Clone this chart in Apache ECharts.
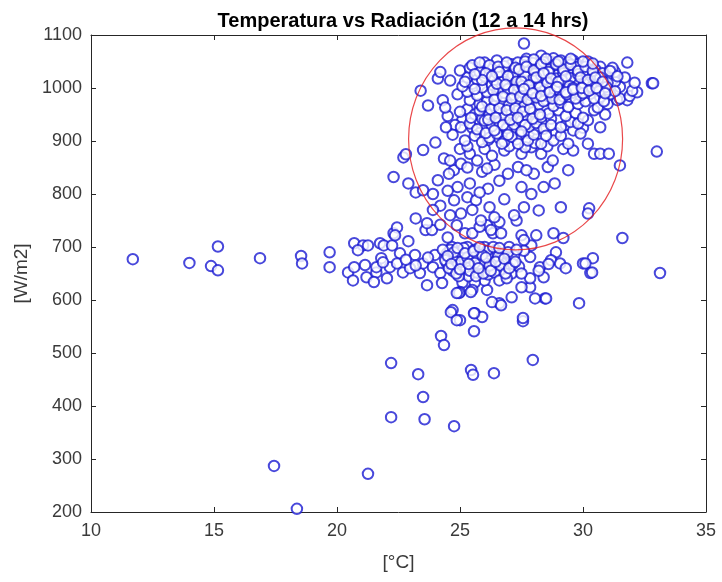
<!DOCTYPE html>
<html>
<head>
<meta charset="utf-8">
<script src="https://cdn.jsdelivr.net/npm/echarts@6/dist/echarts.min.js"></script>
<style>html,body{margin:0;padding:0;background:#fff;}#c{width:722px;height:582px;}</style>
</head>
<body>
<div id="c"></div>
<script>
// ---- Data: [temperature °C, radiation W/m2] ----
const leftTail = [
  [11.7,677],[14.0,670],[14.88,664],[15.16,656],[15.16,701],[16.87,679],
  [18.54,683],[18.58,669],[19.7,690],[19.7,662]
];
const lowOutliers = [
  [17.44,287],[18.37,206],[21.26,272],[22.2,379],[23.56,375],[24.76,362],[23.5,417],
  [23.3,460],[25.45,468],[25.53,459],[26.38,462],[22.2,481],[27.96,487],
  [24.23,532],[24.35,515],[25.57,541],[27.56,560]
];
const lowerBand = [
  [27.85,624],[28.45,603],[28.05,603],[27.5,624],[27.1,605],[26.6,594],[26.3,596],[26.1,619],
  [26.0,637],[25.6,633],[25.1,633],[25.0,615],[25.5,619],[24.96,613],[25.44,615],[26.67,590],
  [28.5,603],[29.84,594],[24.87,613],[25.6,575],[25.9,568],[25.0,562],[24.7,581],[27.56,566],
  [24.63,577],[25.57,575],[24.87,562]
];
const band = [
  [20.7,707],[21.06,703],[20.85,694],[21.26,703],[21.75,707],[21.9,703],[22.24,703],[24.67,700],
  [23.17,685],[23.98,685],[22.56,688],[24.47,688],[27.9,703],[28.9,690],[28.7,675],[29.07,669],
  [30.0,669],[30.4,679],[30.1,669],[27.85,681],
  [20.45,652],[20.65,637],[20.7,662],[21.14,666],[21.2,643],[21.6,652],[21.5,634],[21.8,679],
  [21.6,662],[22.15,662],[21.87,671],[22.03,641],[22.44,669],[22.68,652],[22.97,660],[23.37,651],
  [23.5,669],[23.66,628],[23.9,662],[24.2,651],[24.27,632],[24.47,669],
  [24.6,695],[24.8,680],[24.9,665],[25.0,690],[25.1,655],[25.2,675],[25.3,700],[25.35,645],
  [25.45,685],[25.5,665],[25.6,695],[25.7,652],[25.75,678],[25.85,690],[25.9,660],[26.0,700],
  [26.05,672],[26.15,648],[26.25,686],[26.3,663],[26.45,695],[26.5,676],[26.6,655],[26.75,688],
  [26.9,668],[27.0,700],[27.1,650],[24.7,655],[24.95,645],[25.25,662],[25.55,680],[25.8,668],
  [26.1,693],[26.4,652],[26.7,670],[27.2,683],[27.4,663],[27.6,693],
  [28.25,662],[28.4,643],[27.85,641],[28.2,655],[28.6,668],[29.3,660],[26.6,637],[26.9,641],
  [30.3,651],[30.37,652],[33.13,651],[31.6,717]
];
const bandDense = [
  [24.4,675],[24.55,660],[24.75,690],[24.85,650],[25.05,672],[25.15,698],[25.3,680],[25.4,655],
  [25.6,670],[25.65,645],[25.9,685],[25.95,650],[26.2,665],[26.35,700],[26.55,682],[26.65,665],
  [26.85,650],[26.95,690],[27.15,668],[27.3,695],[27.5,650],[24.3,695],[23.7,680],[23.2,665],[22.8,676],
  [24.5,683],[24.65,668],[24.9,698],[25.0,658],[25.2,688],[25.35,668],[25.55,692],[25.75,660],
  [25.8,700],[26.05,680],[26.25,655],[26.45,672],[26.6,698],[26.8,678],[27.0,660],[27.25,672]
];
const midCluster = [
  [23.6,732],[22.3,726],[22.44,737],[22.36,722],[22.9,711],[23.86,732],[23.66,745],[24.5,718],
  [24.87,741],[25.2,726],[25.5,726],[26.1,741],[26.34,726],[26.6,747],[27.3,750],[27.5,722],
  [27.6,713],[28.1,722],[28.8,726],[29.2,717],[26.26,732],[26.67,726],[25.8,738],[24.2,742],
  [25.3,794],[24.76,788],[25.65,788],[26.2,775],[26.4,756],[25.85,750],[25.04,763],[27.2,760],
  [27.6,775],[28.2,769],[29.1,775],[30.25,773],[30.2,763],[23.2,754],[24.2,778],[24.6,760],
  [25.5,770],[26.8,790],[23.9,770],
  [22.3,832],[22.9,820],[23.2,803],[23.5,807],[23.9,800],[24.1,826],[24.9,813],[25.4,820],
  [26.14,810],[26.6,825],[27.5,813],[27.9,800],[28.4,813],[28.85,820],[25.8,803],[24.5,806],
  [24.75,845],[25.04,857],[24.55,838],[25.3,850],[25.9,842],[26.4,855],[26.95,838],[27.36,851],
  [28.0,838],[28.57,851],[29.4,845],[31.5,854],[26.1,848],[27.7,845],
  [22.7,869],[22.8,875],[23.5,883],[24.35,867],[24.6,863],[25.4,876],[25.7,863],[26.0,885],
  [26.3,872],[26.8,882],[27.5,876],[27.9,888],[28.3,876],[28.77,863],[29.2,885],[29.6,882],
  [30.45,876],[30.7,876],[31.05,876],[33.0,880]
];
const midDense = [
  [25.3,960],[25.6,950],[25.9,942],[26.3,935],[26.55,925],[26.9,935],[27.2,920],[27.45,912],
  [27.8,915],[28.1,922],[28.4,938],[28.7,942],[28.9,915],[25.5,925],[25.8,915],[26.15,902],
  [26.6,905],[27.0,890],[27.3,903],[27.65,888],[28.05,896],[28.55,890],[29.3,930],[29.6,920],
  [30.0,925],[25.1,940],[24.8,930],[24.7,912],[25.0,885],[25.3,890]
];
const upperCluster = [
  [24.0,897],[25.2,901],[25.6,910],[25.9,898],[26.2,906],[26.5,914],[26.8,899],[27.1,908],
  [27.36,895],[27.76,901],[28.0,912],[28.3,895],[28.8,901],[29.1,910],[29.4,895],[29.9,914],[30.2,895],
  [24.43,926],[25.04,926],[25.4,933],[25.7,922],[26.0,938],[26.3,928],[26.6,935],[26.9,924],
  [27.2,931],[27.5,938],[27.8,927],[28.1,934],[28.4,923],[28.7,930],[29.1,926],[29.5,936],
  [29.8,933],[30.2,939],[30.7,926],
  [24.5,947],[25.0,955],[25.45,944],[25.8,958],[26.2,950],[26.5,956],[26.8,946],[27.1,953],
  [27.4,960],[27.7,948],[28.0,955],[28.3,945],[28.6,952],[29.0,958],[29.3,947],[29.7,953],
  [30.0,944],[30.45,958],[30.9,950],
  [23.7,967],[24.3,977],[24.4,963],[25.4,977],[25.8,970],[26.1,975],[26.4,966],[26.7,972],
  [27.0,968],[27.3,976],[27.6,965],[27.9,973],[28.2,969],[28.5,977],[28.8,966],[29.1,972],
  [29.4,964],[29.8,970],[30.1,975],[30.6,963],[31.0,970],[31.4,977],[31.8,977],
  [23.4,995],[24.9,988],[25.3,993],[25.7,986],[26.1,992],[26.5,985],[26.8,991],[27.2,987],
  [27.5,994],[27.9,986],[28.2,992],[28.5,985],[28.9,990],[29.2,984],[29.6,991],[29.9,986],
  [30.3,989],[30.7,983],[31.1,988],[31.5,980],[31.9,985],[32.2,992],
  [25.1,1003],[25.5,1008],[25.9,1001],[26.3,1006],[26.6,999],[27.0,1005],[27.4,1002],[27.7,1009],
  [28.0,1000],[28.3,1006],[28.6,1001],[28.9,1008],[29.2,1002],[29.5,1006],[29.8,999],[30.1,1004],
  [30.4,998],[30.7,1005],[31.0,997],[31.5,1002],[32.0,995],[32.8,1009],
  [24.1,1018],[24.6,1014],[25.3,1020],[25.7,1016],[26.0,1022],[26.4,1015],[26.7,1021],[27.0,1013],
  [27.3,1020],[27.6,1016],[27.9,1023],[28.2,1017],[28.5,1022],[28.8,1014],[29.1,1020],[29.4,1016],
  [29.7,1022],[30.0,1015],[30.3,1019],[30.6,1013],[30.9,1018],[31.3,1012],[31.7,1020],[32.1,1010],
  [24.2,1030],[25.0,1033],[25.4,1038],[25.8,1030],[26.2,1036],[26.5,1028],[26.9,1035],[27.2,1031],
  [27.5,1038],[27.8,1029],[28.1,1036],[28.4,1032],[28.7,1040],[29.0,1030],[29.3,1036],[29.6,1029],
  [29.9,1034],[30.2,1027],[30.6,1032],[31.0,1025],[31.3,1030],
  [26.0,1048],[26.5,1052],[27.1,1045],[27.7,1055],[28.3,1061],[28.7,1050],[29.2,1047],[29.6,1052],
  [30.1,1044],[30.7,1040],[31.2,1038],[25.5,1043],[25.8,1048],[31.8,1048],[32.85,1009],[27.6,1084]
];
const coreCluster = [
  [27.6,1043],[27.95,1047],[28.25,1041],[28.55,1046],[28.85,1035],[29.15,1043],[29.45,1039],[29.75,1045],
  [30.05,1037],[30.35,1042],[27.45,1025],[27.75,1030],[28.05,1027],[28.35,1013],[28.65,1027],[28.95,1024],
  [29.25,1010],[29.55,1025],[29.85,1010],[30.15,1023],[30.45,1008],[28.15,1010],[28.75,1004],[29.35,998],
  [29.95,1018],[27.85,1014],[28.45,996],[29.05,993],[29.65,1012],[30.25,1011],[30.85,1009],
  [26.2,1043],[26.8,1041],[27.35,1048],[26.05,1028],[26.75,1012],[27.15,1025],[26.35,996],[26.95,998],[27.55,992],
  [25.9,965],[26.25,960],[26.6,962],[26.9,958],[27.25,962],[27.55,955],[27.85,961],[26.15,940],
  [26.45,944],[26.75,930],[27.05,940],[27.35,944],[27.65,930],[27.95,942],[28.25,950],[26.05,915],
  [26.4,920],[26.95,912],[27.5,918],[28.5,910],[26.7,895]
];
const coreDense = [
  [26.55,1040],[26.9,1048],[27.25,1038],[27.65,1050],[28.0,1054],[28.4,1049],[28.8,1056],[29.1,1052],
  [29.4,1048],[29.8,1040],[30.2,1050],[30.5,1035],[30.8,1028],[31.1,1032],[31.4,1022],
  [26.6,1030],[26.95,1022],[27.3,1012],[27.65,1022],[28.0,1019],[28.3,1024],[28.6,1035],[28.9,1018],
  [29.2,1028],[29.5,1019],[29.8,1026],[30.1,1030],[30.4,1025],[30.7,1020],[31.0,1010],
  [26.5,1008],[26.85,1006],[27.2,996],[27.55,1004],[27.9,995],[28.25,1001],[28.55,1010],[28.85,997],
  [29.15,1014],[29.45,1004],[29.75,994],[30.05,1008],[30.35,1002],[30.65,994],[30.95,1002],[31.3,994],
  [26.4,978],[26.75,984],[27.1,980],[27.45,984],[27.75,978],[28.1,982],[28.4,975],[28.75,980],
  [29.05,978],[29.35,988],[29.7,980],[30.0,990],[30.45,980],[30.85,975],
  [25.6,998],[25.2,1012],[25.9,1015],[26.3,1022],[25.6,1026],
  [27.4,1035],[27.7,1040],[28.0,1033],[28.3,1045],[28.6,1030],[28.9,1045],[29.2,1035],[29.5,1044],
  [29.8,1032],[30.1,1040],[30.4,1032],
  [27.5,1012],[27.8,1005],[28.1,1020],[28.4,1028],[28.7,1018],[29.0,1012],[29.3,1022],[29.6,1000],
  [29.9,1020],[30.2,1015],[30.5,1020],[30.8,1012],
  [27.6,998],[27.95,990],[28.3,985],[28.65,992],[28.95,1002],[29.3,992],[29.6,997],[29.95,1000],
  [30.25,995],[30.55,1000],[30.9,990],
  [28.5,1055],[29.0,1050],[29.5,1055],[30.0,1050],[30.4,1046]
];
// highlighted region (red ring): centre in data units
const ringCenter = [27.26, 904];

const titleText = 'Temperatura vs Radiación (12 a 14 hrs)';
const xName = '[°C]';
const yName = '[W/m2]';

const allPoints = [].concat(leftTail, lowOutliers, lowerBand, band, bandDense, midCluster, midDense,
  upperCluster, coreCluster, coreDense);

const axisColor = '#262626';
const labelColor = '#3a3a3a';
const fontFam = 'Liberation Sans, Arial, Helvetica, sans-serif';
const baseAxis = {
  type: 'value',
  axisLine: { show: true, onZero: false, lineStyle: { color: axisColor, width: 1 } },
  axisTick: { show: true, inside: true, length: 5, lineStyle: { color: axisColor } },
  splitLine: { show: false }
};

const chart = echarts.init(document.getElementById('c'), null, { renderer: 'canvas' });
chart.setOption({
  animation: false,
  backgroundColor: '#ffffff',
  title: {
    text: titleText,
    left: 398, top: 6, textAlign: 'center',
    textStyle: { fontFamily: fontFam, fontSize: 20, fontWeight: 'bold', color: '#000' }
  },
  grid: { left: 91, right: 16, top: 35, bottom: 70 },
  xAxis: [
    Object.assign({}, baseAxis, {
      position: 'bottom', min: 10, max: 35, interval: 5,
      name: xName, nameLocation: 'middle', nameGap: 41,
      nameTextStyle: { fontFamily: fontFam, fontSize: 19, color: labelColor },
      axisLabel: { margin: 10, fontFamily: fontFam, fontSize: 18, color: labelColor,
        formatter: v => String(v) }
    }),
    Object.assign({}, baseAxis, {
      position: 'top', min: 10, max: 35, interval: 5, axisLabel: { show: false }
    })
  ],
  yAxis: [
    Object.assign({}, baseAxis, {
      position: 'left', min: 200, max: 1100, interval: 100,
      name: yName, nameLocation: 'middle', nameGap: 57, nameRotate: 90,
      nameTextStyle: { fontFamily: fontFam, fontSize: 19, color: labelColor },
      axisLabel: { margin: 9, fontFamily: fontFam, fontSize: 18, color: labelColor,
        formatter: v => String(v) }
    }),
    Object.assign({}, baseAxis, {
      position: 'right', min: 200, max: 1100, interval: 100, axisLabel: { show: false }
    })
  ],
  series: [
    {
      type: 'scatter', xAxisIndex: 0, yAxisIndex: 0,
      data: allPoints,
      symbol: 'emptyCircle', symbolSize: 10.5,
      itemStyle: { color: '#1a1ad2', borderColor: '#1a1ad2', borderWidth: 1.2 },
      emphasis: { disabled: true },
      silent: true
    },
    {
      type: 'scatter', xAxisIndex: 0, yAxisIndex: 0,
      data: [ringCenter],
      clip: false,
      symbol: 'circle', symbolSize: [214, 222],
      itemStyle: { color: 'rgba(0,0,0,0)', borderColor: '#e3191c', borderWidth: 1.2 },
      emphasis: { disabled: true },
      silent: true, z: 10
    }
  ]
});
</script>
</body>
</html>
